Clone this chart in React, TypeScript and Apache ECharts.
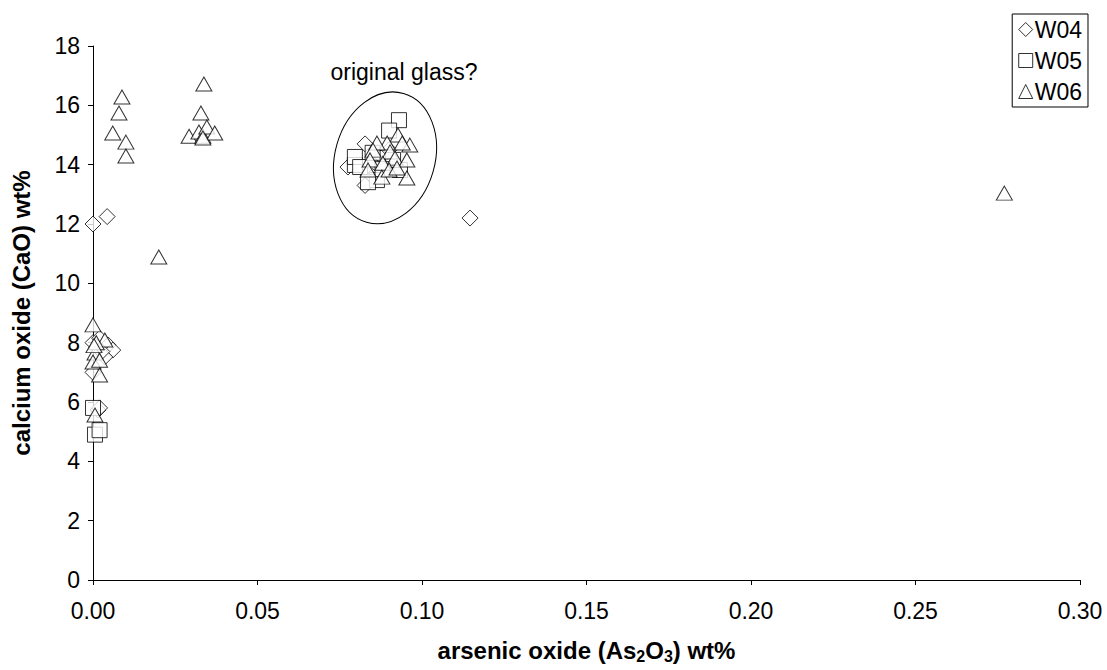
import React, { useEffect, useRef } from "react";
import * as echarts from "echarts";

const seriesNames = ["W04", "W05", "W06"];
const symbols = ["diamond", "rect", "triangle"];

const w04: [number, number][] = [
  [0, 12.0], [0.0043, 12.25], [0.1146, 12.2],
  [0.0, 8.0], [0.002, 8.15], [0.0046, 7.92], [0.006, 7.75], [0.0036, 7.52],
  [0.0012, 7.85], [0.0027, 7.7], [0.0, 7.0], [0.0015, 5.73], [0.002, 5.8],
  [0.0775, 13.92], [0.0827, 13.3], [0.0827, 14.7], [0.0878, 14.26], [0.085, 13.6], [0.09, 14.5],
];

const w05: [number, number][] = [
  [0.0006, 4.9], [0.002, 5.05], [0.0, 5.8],
  [0.093, 15.5], [0.09, 15.15], [0.0796, 13.99], [0.0796, 14.26], [0.0812, 13.92],
  [0.0863, 13.48], [0.0836, 13.41], [0.0933, 13.82], [0.0912, 14.16], [0.085, 14.4], [0.088, 13.85],
];

const w06: [number, number][] = [
  [0.0088, 16.28], [0.0079, 15.74], [0.006, 15.07], [0.01, 14.76], [0.01, 14.29],
  [0.0337, 16.72], [0.0328, 15.74], [0.0292, 14.96], [0.0322, 15.1], [0.0334, 14.96],
  [0.0346, 15.27], [0.037, 15.07], [0.0334, 14.9],
  [0.02, 10.89], [0.277, 13.04],
  [0, 8.6], [0.0036, 8.09], [0.0006, 7.65], [0, 7.35], [0.002, 7.41], [0.002, 6.91],
  [0.0006, 5.56], [0.001, 8.0], [0.0003, 7.9],
  [0.0927, 15.0], [0.0963, 14.66], [0.094, 14.73], [0.0894, 14.73], [0.0863, 14.73],
  [0.0851, 14.49], [0.0903, 14.43], [0.0842, 14.16], [0.0918, 14.22], [0.0881, 14.05],
  [0.0954, 14.16], [0.0836, 13.82], [0.0878, 13.58], [0.0954, 13.55], [0.09, 13.82], [0.0924, 13.89],
];

const seriesData = [w04, w05, w06];
const symbolSizes: (number | number[])[] = [16, 15, [16, 14]];

const FONT = "'Liberation Sans', Arial, sans-serif";
const FS = 23;

export default function App() {
  const ref = useRef<HTMLDivElement>(null);
  useEffect(() => {
    if (!ref.current) return;
    const chart = echarts.init(ref.current, undefined, { renderer: "svg" });
    const markerStyle = { color: "#fff", borderColor: "#000", borderWidth: 1 };
    chart.setOption({
      animation: false,
      textStyle: { fontFamily: FONT },
      grid: { left: 93, right: 27, top: 46, bottom: 90 },
      xAxis: {
        type: "value",
        min: 0,
        max: 0.3,
        interval: 0.05,
        name: "arsenic oxide (As{sub|2}O{sub|3}) wt%",
        nameLocation: "middle",
        nameGap: 56,
        nameTextStyle: {
          fontSize: 24,
          fontWeight: "bold",
          color: "#000",
          fontFamily: FONT,
          lineHeight: 28,
          rich: {
            sub: { fontSize: 16, fontWeight: "bold", lineHeight: 16, verticalAlign: "bottom", fontFamily: FONT, color: "#000" },
          },
        },
        axisLine: { lineStyle: { color: "#000", width: 1 } },
        axisTick: { show: true, inside: false, length: 5, lineStyle: { color: "#000" } },
        axisLabel: {
          fontSize: FS,
          color: "#000",
          margin: 19,
          fontFamily: FONT,
          formatter: (v: number) => v.toFixed(2),
        },
        splitLine: { show: false },
      },
      yAxis: {
        type: "value",
        min: 0,
        max: 18,
        interval: 2,
        name: "calcium oxide (CaO) wt%",
        nameLocation: "middle",
        nameRotate: 90,
        nameGap: 60,
        nameTextStyle: { fontSize: 24, fontWeight: "bold", color: "#000", fontFamily: FONT },
        axisLine: { show: true, lineStyle: { color: "#000", width: 1 } },
        axisTick: { show: true, inside: false, length: 5, lineStyle: { color: "#000" } },
        axisLabel: { fontSize: FS, color: "#000", margin: 13, fontFamily: FONT },
        splitLine: { show: false },
      },
      legend: {
        orient: "vertical",
        right: 19,
        top: 14,
        borderColor: "#000",
        borderWidth: 1,
        borderRadius: 0,
        padding: [4, 6, 4, 6],
        itemGap: 8,
        itemWidth: 14,
        itemHeight: 14,
        textStyle: { fontSize: FS, color: "#000", fontFamily: FONT, padding: [0, 0, 0, -3] },
        data: seriesNames.map((n, i) => ({ name: n, icon: symbols[i], itemStyle: markerStyle })),
      },
      series: seriesNames.map((n, i) => ({
        name: n,
        type: "scatter",
        symbol: symbols[i],
        symbolSize: symbolSizes[i],
        itemStyle: markerStyle,
        data: seriesData[i],
        z: 2 + i,
      })),
      graphic: [
        {
          type: "ellipse",
          shape: { cx: 385, cy: 158, rx: 50, ry: 67 },
          originX: 385,
          originY: 158,
          rotation: -0.28,
          style: { fill: "none", stroke: "#000", lineWidth: 1 },
          z: 1,
        },
        {
          type: "text",
          x: 404,
          y: 72,
          style: {
            text: "original glass?",
            fontSize: FS,
            fontFamily: FONT,
            fill: "#000",
            textAlign: "center",
            textVerticalAlign: "middle",
          },
        },
      ],
    });
    return () => chart.dispose();
  }, []);
  return (
    <div
      ref={ref}
      style={{ position: "fixed", left: 0, top: 0, width: 1107, height: 670, background: "#fff" }}
    />
  );
}
